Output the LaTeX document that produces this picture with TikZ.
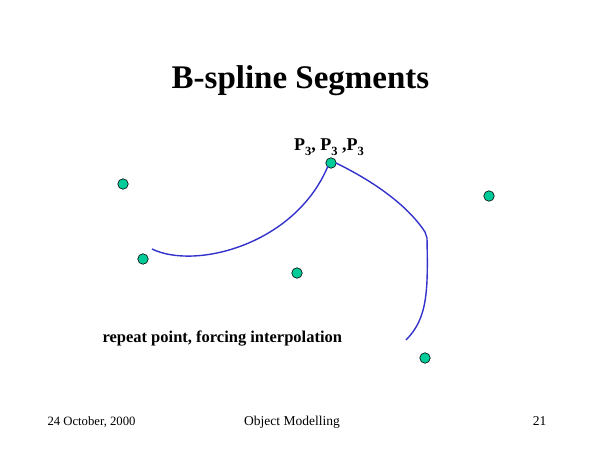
\documentclass[tikz,border=0pt]{standalone}
\usepackage{fontspec}
\setmainfont{Liberation Serif}
\definecolor{dotgreen}{RGB}{0,204,153}
\definecolor{curveblue}{RGB}{51,51,204}
\newcommand{\subthree}{\raisebox{-5pt}{\fontsize{12.5}{13}\selectfont 3}}
\tikzset{
	ctrl/.style={circle,draw=black,fill=dotgreen,line width=0.6pt,inner sep=0pt,minimum size=10.5pt},
	spline/.style={color=curveblue,line width=1.4pt},
	footer/.style={anchor=base,font=\fontsize{13.5}{15}\selectfont}
}
\begin{document}
\begin{tikzpicture}[x=1pt,y=-1pt]
		\useasboundingbox[fill=white] (0,0) rectangle (600,450);
		% Title.
		\node[anchor=base,font=\fontsize{33}{38}\selectfont\bfseries] (title) at (300.5,88) {B-spline Segments};
		
		% Draw control points.
		\node[ctrl] (p0) at (123,184) {};
		\node[ctrl] (p1) at (143,259) {};
		\node[ctrl] (p2) at (297,273) {};
		\node[ctrl] (p3) at (331,163) {};
		\node[ctrl] (p4) at (489,196) {};
		\node[ctrl] (p5) at (425,358) {};
		\node[anchor=base,font=\fontsize{18}{20}\selectfont\bfseries] (p3label) at (329,150)
			{P\subthree, P\subthree{} ,P\subthree};
		
		% Draw the two segments meeting at P3.
		\coordinate (s0) at (152,249);
		\coordinate (s1) at (328,166);
		\coordinate (s2) at (336,163);
		\coordinate (k0) at (425,232);
		\coordinate (k1) at (427,238);
		\coordinate (s3) at (406,340);
		\draw[spline] (s0) .. controls (195,270) and (295,245) .. (s1);
		\draw[spline] (s2) .. controls (385,187) and (412,212) .. (k0) -- (k1)
			.. controls (428,290) and (428,318) .. (s3);
		
		\node[anchor=base west,font=\fontsize{16.5}{19}\selectfont\bfseries] (note) at (99,342)
			{repeat point, forcing interpolation};
		
		% Footer.
		\node[footer,anchor=base west,font=\fontsize{12.7}{15}\selectfont] (date) at (44,425) {24 October, 2000};
		\node[footer] (course) at (292,425) {Object Modelling};
		\node[footer,anchor=base east] (page) at (550,425) {21};
	\end{tikzpicture}
\end{document}
